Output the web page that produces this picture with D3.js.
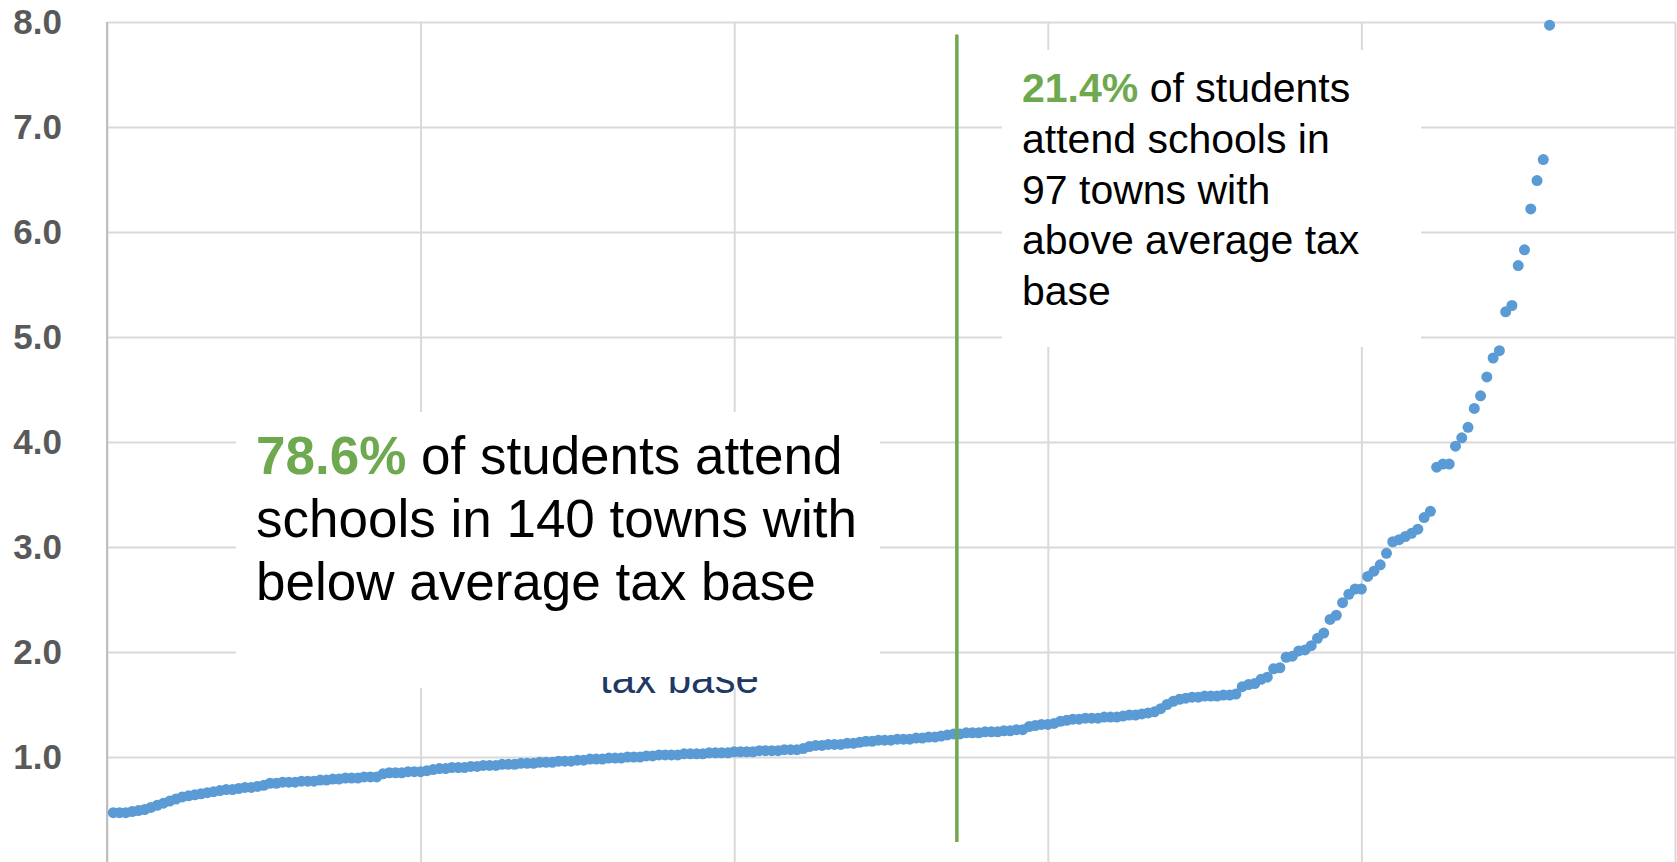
<!DOCTYPE html>
<html>
<head>
<meta charset="utf-8">
<script src="https://cdn.jsdelivr.net/npm/d3@7"></script>
<style>
    body { margin: 0; background: #fff; overflow: hidden; }
    text { font-family: "Liberation Sans", Arial, sans-serif; white-space: pre; }
</style>
</head>
<body>
<div id="chart"></div>
<script>
// tax base ratio of each town, sorted low to high (rank = position + 1)
const ratios = [
    0.47, 0.47, 0.47, 0.48, 0.49, 0.50, 0.52, 0.54, 0.56, 0.58,
    0.60, 0.62, 0.63, 0.64, 0.65, 0.66, 0.67, 0.68, 0.69, 0.69,
    0.70, 0.71, 0.71, 0.72, 0.73, 0.75, 0.75, 0.76, 0.76, 0.76,
    0.77, 0.77, 0.77, 0.78, 0.78, 0.79, 0.79, 0.80, 0.80, 0.80,
    0.81, 0.81, 0.81, 0.84, 0.85, 0.85, 0.85, 0.86, 0.86, 0.86,
    0.87, 0.88, 0.89, 0.89, 0.90, 0.90, 0.90, 0.91, 0.91, 0.92,
    0.92, 0.92, 0.93, 0.93, 0.93, 0.94, 0.94, 0.94, 0.95, 0.95,
    0.95, 0.96, 0.96, 0.96, 0.97, 0.97, 0.98, 0.98, 0.98, 0.99,
    0.99, 0.99, 1.00, 1.00, 1.00, 1.01, 1.01, 1.02, 1.02, 1.02,
    1.02, 1.03, 1.03, 1.03, 1.03, 1.04, 1.04, 1.04, 1.04, 1.05,
    1.05, 1.05, 1.05, 1.06, 1.06, 1.06, 1.06, 1.07, 1.07, 1.07,
    1.08, 1.10, 1.11, 1.11, 1.12, 1.12, 1.12, 1.13, 1.13, 1.14,
    1.15, 1.15, 1.16, 1.16, 1.16, 1.17, 1.17, 1.17, 1.18, 1.18,
    1.19, 1.19, 1.20, 1.21, 1.22, 1.22, 1.23, 1.23, 1.23, 1.24,
    1.24, 1.24, 1.25, 1.25, 1.26, 1.26, 1.29, 1.30, 1.31, 1.31,
    1.32, 1.34, 1.35, 1.36, 1.36, 1.37, 1.37, 1.37, 1.38, 1.38,
    1.38, 1.39, 1.40, 1.40, 1.41, 1.42, 1.43, 1.46, 1.50, 1.53,
    1.55, 1.56, 1.57, 1.57, 1.58, 1.58, 1.58, 1.59, 1.59, 1.60,
    1.67, 1.69, 1.70, 1.74, 1.76, 1.84, 1.85, 1.95, 1.96, 2.01,
    2.02, 2.06, 2.13, 2.18, 2.31, 2.35, 2.47, 2.55, 2.60, 2.60,
    2.72, 2.77, 2.83, 2.94, 3.05, 3.07, 3.10, 3.13, 3.17, 3.28,
    3.34, 3.76, 3.79, 3.79, 3.96, 4.04, 4.14, 4.32, 4.44, 4.62,
    4.80, 4.87, 5.24, 5.30, 5.68, 5.83, 6.22, 6.49, 6.69, 7.97
];

const yTicks = [1, 2, 3, 4, 5, 6, 7, 8];
const xTicks = [0, 50, 100, 150, 200, 250];

// green divider between below / above average towns
const splitRank = 135.5;
const splitRange = [0.19, 7.88];

// annotation lines: [green bold part, plain part]
const leftNote = [
    ['78.6%', ' of students attend'],
    ['', 'schools in 140 towns with'],
    ['', 'below average tax base']
];
const rightNote = [
    ['21.4%', ' of students'],
    ['', 'attend schools in'],
    ['', '97 towns with'],
    ['', 'above average tax'],
    ['', 'base']
];
const hiddenNote = 'tax base';

function createChart() {
    const width = 1677;
    const height = 862;
    const margin = {top: 22, right: 2, bottom: 0, left: 107};
    const chartWidth = width - margin.left - margin.right;
    const chartHeight = height - margin.top - margin.bottom;

    const xScale = d3.scaleLinear()
        .domain([0, 250])
        .range([0, chartWidth]);

    const yScale = d3.scaleLinear()
        .domain([0, 8])
        .range([chartHeight, 0]);

    let svg = d3.select('#chart')
        .append('svg')
            .attr('width', width)
            .attr('height', height);

    let g = svg.append('g')
        .attr('transform', `translate(${margin.left}, ${margin.top})`);

    // vertical gridlines
    g.append('g')
        .attr('transform', `translate(0, ${chartHeight})`)
        .call(d3.axisBottom(xScale).tickValues(xTicks).tickSize(-chartHeight).tickFormat(''))
        .call(ax => ax.select('.domain').remove())
        .call(ax => ax.selectAll('line').attr('stroke', '#d9d9d9').attr('stroke-width', 2));

    // horizontal gridlines + labels
    g.append('g')
        .call(d3.axisLeft(yScale).tickValues(yTicks).tickSize(-chartWidth)
            .tickPadding(45).tickFormat(d3.format('.1f')))
        .call(ax => ax.select('.domain').remove())
        .call(ax => ax.selectAll('line').attr('stroke', '#d9d9d9').attr('stroke-width', 2))
        .call(ax => ax.selectAll('text')
            .attr('fill', '#595959')
            .attr('font-size', 35)
            .attr('font-weight', 'bold')
            .attr('font-family', '"Liberation Sans", Arial, sans-serif'));

    // left axis line
    g.append('line')
        .attr('x1', xScale(0)).attr('x2', xScale(0))
        .attr('y1', 0).attr('y2', chartHeight)
        .attr('stroke', '#bfbfbf')
        .attr('stroke-width', 2);

    g.selectAll('circle')
        .data(ratios)
        .enter()
            .append('circle')
                .attr('cx', (d, i) => xScale(i + 1))
                .attr('cy', (d) => yScale(d))
                .attr('r', 5.5)
                .attr('fill', '#5b9bd5');

    g.append('line')
        .attr('x1', xScale(splitRank)).attr('x2', xScale(splitRank))
        .attr('y1', yScale(splitRange[1])).attr('y2', yScale(splitRange[0]))
        .attr('stroke', '#6ea94f')
        .attr('stroke-width', 3.5);

    // text boxes (page coordinates)
    // box behind, mostly hidden
    svg.append('rect')
        .attr('x', 400).attr('y', 600).attr('width', 480).attr('height', 88)
        .attr('fill', '#fff');
    svg.append('text')
        .attr('x', 600).attr('y', 693)
        .attr('font-size', 42)
        .attr('fill', '#203864')
        .text(hiddenNote);

    svg.append('rect')
        .attr('x', 236).attr('y', 412).attr('width', 644).attr('height', 265)
        .attr('fill', '#fff');

    svg.append('rect')
        .attr('x', 1002).attr('y', 50).attr('width', 419).attr('height', 297)
        .attr('fill', '#fff');

    function addNote(lines, x, y0, lineHeight, size) {
        const t = svg.append('text')
            .attr('font-size', size)
            .attr('fill', '#000');
        lines.forEach((line, i) => {
            const row = t.append('tspan')
                .attr('x', x)
                .attr('y', y0 + i * lineHeight);
            if (line[0]) {
                row.append('tspan')
                    .attr('font-weight', 'bold')
                    .attr('fill', '#6ea94f')
                    .text(line[0]);
            }
            row.append('tspan').text(line[1]);
        });
    }

    addNote(leftNote, 256, 474, 63, 53);
    addNote(rightNote, 1022, 102, 50.8, 41);
}

createChart();
</script>
</body>
</html>
